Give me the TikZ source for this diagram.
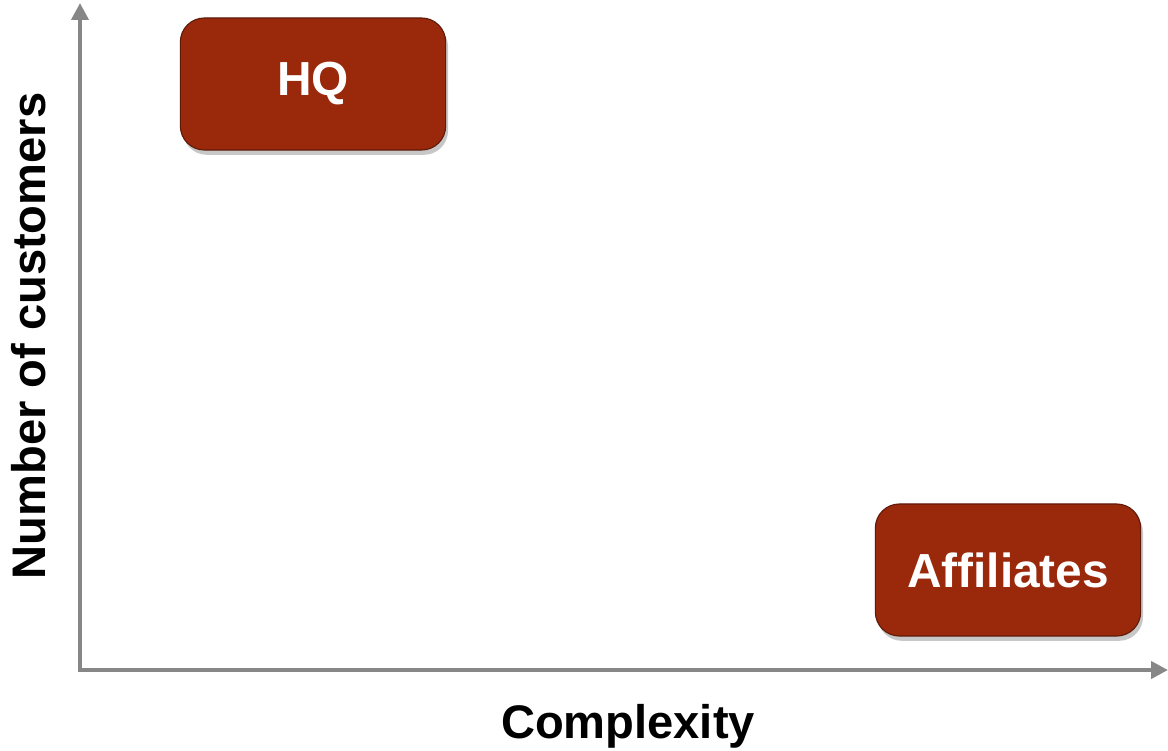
\documentclass[tikz,border=0pt]{standalone}
\usepackage{fontspec}
\setmainfont{Liberation Sans}
\usepackage{tikz}
\usetikzlibrary{positioning,arrows.meta,shadows}
\definecolor{BoxRed}{RGB}{154,41,12}
\definecolor{BoxEdge}{RGB}{95,26,10}
\definecolor{AxisGray}{RGB}{135,135,135}

\begin{document}
\begin{tikzpicture}[
    x=0.025cm, y=-0.025cm,
    elem/.style={rectangle, rounded corners=0.6cm, draw=BoxEdge, line width=0.8pt, fill=BoxRed,
        minimum width=6.63cm, minimum height=3.3cm, text=white,
        font=\fontsize{34}{40}\selectfont\bfseries, align=center,
        drop shadow={shadow xshift=0.06cm, shadow yshift=-0.12cm, fill=black, opacity=0.22}},
    arrow/.style={-{Triangle[length=0.42cm,width=0.42cm]}, AxisGray, line width=0.1cm},
    label/.style={font=\fontsize{33.5}{40}\selectfont\bfseries, text=black}
]
\useasboundingbox (0,0) rectangle (1168,750);
% axes
\coordinate (origin) at (80,670);
\coordinate (ytop)   at (80,3);
\coordinate (xend)   at (1168,670);
\draw[arrow] ([yshift=-0.05cm]origin) -- (ytop);
\draw[arrow] ([xshift=-0.05cm]origin) -- (xend);
\node[label] (xlab) at (628,726) {Complexity};
\node[label, rotate=90] (ylab) at (29,336) {Number of customers};
% boxes
\node[elem] (hq)  at (313,84)   {\raisebox{-0.1cm}{HQ}};
\node[elem] (aff) at (1008,570) {\raisebox{-0.05cm}{Affiliates}};
\end{tikzpicture}
\end{document}
